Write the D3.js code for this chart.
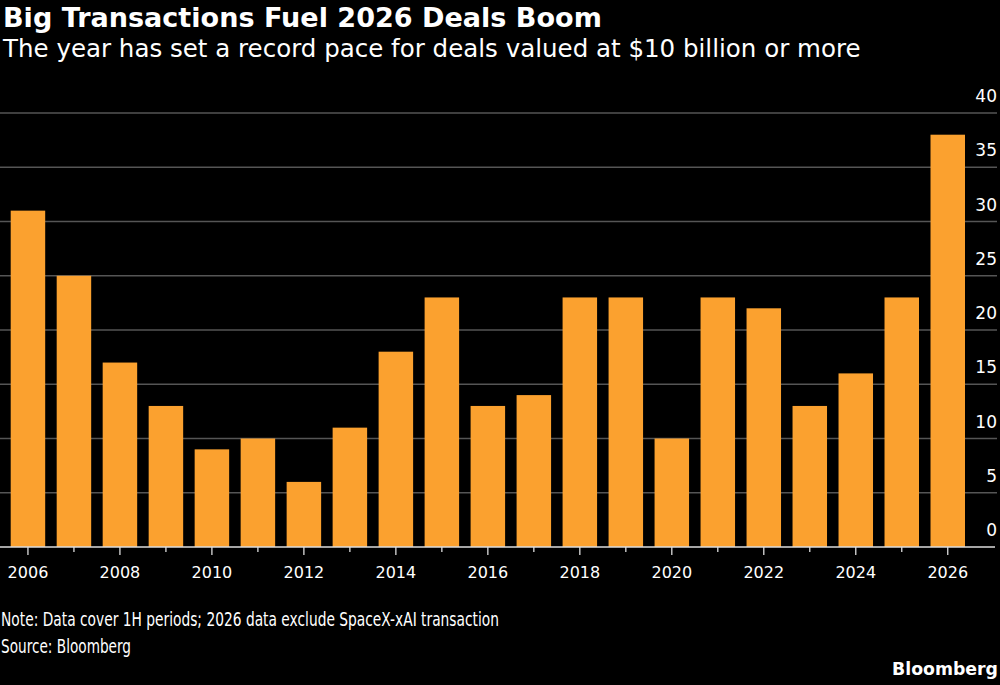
<!DOCTYPE html>
<html>
<head>
<meta charset="utf-8">
<script src="https://cdn.jsdelivr.net/npm/d3@7"></script>
<style>
  html, body { margin: 0; padding: 0; background: #000; }
  svg { display: block; }
  text { font-family: "DejaVu Sans", Verdana, sans-serif; fill: #fff; }
</style>
</head>
<body>
<svg id="chart" width="1000" height="685"></svg>
<script>
const years = ["2006","2007","2008","2009","2010","2011","2012","2013","2014","2015","2016","2017","2018","2019","2020","2021","2022","2023","2024","2025","2026"];
const deals = [31, 25, 17, 13, 9, 10, 6, 11, 18, 23, 13, 14, 23, 23, 10, 23, 22, 13, 16, 23, 38];
const yTicks = [0, 5, 10, 15, 20, 25, 30, 35, 40];
const xLabels = ["2006","2008","2010","2012","2014","2016","2018","2020","2022","2024","2026"];

const titleText = "Big Transactions Fuel 2026 Deals Boom";
const subtitleText = "The year has set a record pace for deals valued at $10 billion or more";
const noteText = "Note: Data cover 1H periods; 2026 data exclude SpaceX-xAI transaction";
const sourceText = "Source: Bloomberg";
const brandText = "Bloomberg";

const svg = d3.select("#chart");
svg.append("rect").attr("width", 1000).attr("height", 685).attr("fill", "#000");

const x = d3.scaleBand().domain(years).range([10.7, 965]).paddingInner(0.25).paddingOuter(0);
const y = d3.scaleLinear().domain([0, 40]).range([547, 113]);

// gridlines
svg.append("g").selectAll("line").data(yTicks.filter(d => d > 0)).join("line")
  .attr("x1", 0).attr("x2", 997)
  .attr("y1", d => y(d)).attr("y2", d => y(d))
  .attr("stroke", "#555").attr("stroke-width", 1.3);

// bars
svg.append("g").selectAll("rect").data(years).join("rect")
  .attr("x", d => x(d)).attr("width", x.bandwidth())
  .attr("y", (d, i) => y(deals[i]))
  .attr("height", (d, i) => y(0) - y(deals[i]))
  .attr("fill", "#fba12f");

// y labels
svg.append("g").selectAll("text").data(yTicks).join("text")
  .attr("x", 997).attr("y", d => y(d) - 11)
  .attr("text-anchor", "end").attr("font-size", 17)
  .text(d => d);

// x axis
const xAxis = d3.axisBottom(x).tickSize(0).tickFormat(d => xLabels.includes(d) ? d : "");
const gx = svg.append("g").attr("transform", `translate(0,${y(0)})`).call(xAxis);
gx.select(".domain").remove();
gx.selectAll(".tick line").remove();
gx.selectAll(".tick text").attr("font-size", 16).attr("dy", 0).attr("y", 31)
  .attr("fill", "#fff").attr("font-family", "DejaVu Sans, sans-serif");
gx.selectAll(".tick").append("line")
  .attr("y1", 0).attr("y2", d => xLabels.includes(d) ? 8 : 5)
  .attr("stroke", "#ddd").attr("stroke-width", 1.3);
svg.append("line").attr("x1", 0).attr("x2", 995).attr("y1", y(0)).attr("y2", y(0))
  .attr("stroke", "#ddd").attr("stroke-width", 1.3);

// text helper fitting width
function fitText(txt, xPos, yPos, size, weight, targetW, anchor) {
  const t = svg.append("text").attr("x", xPos).attr("y", yPos)
    .attr("font-size", size).attr("font-weight", weight)
    .attr("text-anchor", anchor || "start").text(txt);
  const w = t.node().getComputedTextLength();
  t.attr("font-size", size * targetW / w);
  return t;
}
function squeezeText(txt, xPos, yPos, size, targetW) {
  return svg.append("text").attr("x", xPos).attr("y", yPos)
    .attr("font-size", size).attr("textLength", targetW)
    .attr("lengthAdjust", "spacingAndGlyphs").text(txt);
}
fitText(titleText, 3, 27, 25, "bold", 599);
fitText(subtitleText, 3, 57, 24, "normal", 858);
squeezeText(noteText, 1, 626, 19.5, 498).attr("fill", "#eee");
squeezeText(sourceText, 1, 653, 19.5, 130).attr("fill", "#eee");
fitText(brandText, 998, 675, 16, "bold", 106, "end");
</script>
</body>
</html>
